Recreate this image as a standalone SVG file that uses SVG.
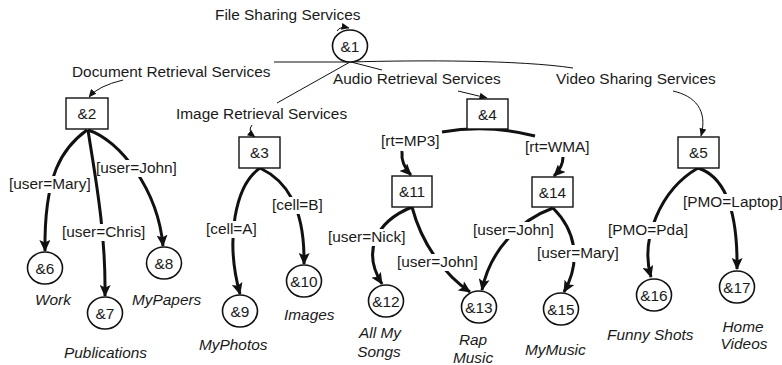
<svg xmlns="http://www.w3.org/2000/svg" width="782" height="365" viewBox="0 0 782 365">
<style>
text{font-family:"Liberation Sans",Arial,sans-serif;font-size:15.4px;fill:#1a1a1a}
.it{font-style:italic}
.c{text-anchor:middle}
.nb{fill:#fff;stroke:#111;stroke-width:1.4}
.nc{fill:#fff;stroke:#111;stroke-width:1.6}
.thick{fill:none;stroke:#111;stroke-width:3}
.thin{fill:none;stroke:#111;stroke-width:1}
.bg{fill:#fff}
</style>
<defs>
<marker id="ah" markerUnits="userSpaceOnUse" markerWidth="12" markerHeight="11" viewBox="0 0 12 11" refX="11" refY="5.5" orient="auto">
<path d="M0,0 L12,5.5 L0,11 L2.5,5.5 z" fill="#111"/>
</marker>
<marker id="as" markerUnits="userSpaceOnUse" markerWidth="8" markerHeight="7" viewBox="0 0 8 7" refX="7.5" refY="3.5" orient="auto">
<path d="M0,0 L8,3.5 L0,7 z" fill="#111"/>
</marker>
</defs>

<g id="connectors">
<path class="thin" d="M350,62 L274,62"/>
<path class="thin" d="M350,62 C420,60 520,60 573,68"/>
<path class="thin" d="M351,62 L382,70"/>
<path class="thin" d="M350,62 L277,103"/>
<path class="thin" d="M337,31 Q340,26 349,28" marker-end="url(#as)"/>
<path class="thin" d="M123,80 Q98,86 89,97" marker-end="url(#as)"/>
<path class="thin" d="M252,125 Q247,131 255,137" marker-end="url(#as)"/>
<path class="thin" d="M458,91 L487,98" marker-end="url(#as)"/>
<path class="thin" d="M673,91 C695,96 708,110 701,136" marker-end="url(#as)"/>

<path class="thick" d="M442,132 Q488,124 535,136"/>
<path class="thick" d="M87,130 C62,148 44,175 45,251" marker-end="url(#ah)"/>
<path class="thick" d="M88,130 C94,170 106,230 105,296" marker-end="url(#ah)"/>
<path class="thick" d="M88,130 C120,140 158,190 163,246" marker-end="url(#ah)"/>
<path class="thick" d="M260,168 C235,185 225,240 240,294" marker-end="url(#ah)"/>
<path class="thick" d="M260,168 C285,180 305,205 304,264" marker-end="url(#ah)"/>
<path class="thick" d="M402,151 C401,162 405,169 411,175" marker-end="url(#ah)"/>
<path class="thick" d="M563,157 C563,165 560,170 554,176" marker-end="url(#ah)"/>
<path class="thick" d="M412,207 C375,222 362,252 382,284" marker-end="url(#ah)"/>
<path class="thick" d="M412,207 C422,245 445,275 470,292" marker-end="url(#ah)"/>
<path class="thick" d="M553,208 C520,220 490,250 482,290" marker-end="url(#ah)"/>
<path class="thick" d="M553,208 C575,230 582,260 564,292" marker-end="url(#ah)"/>
<path class="thick" d="M698,168 C660,190 640,240 651,277" marker-end="url(#ah)"/>
<path class="thick" d="M698,168 C720,175 738,200 737,269" marker-end="url(#ah)"/>
</g>

<g id="service-labels">
<text x="215" y="20">File Sharing Services</text>
<text x="72" y="77">Document Retrieval Services</text>
<text x="333" y="84">Audio Retrieval Services</text>
<text x="556" y="84">Video Sharing Services</text>
<text x="176" y="119">Image Retrieval Services</text>
</g>

<g id="edge-labels">
<rect class="bg" x="8" y="176" width="84" height="17"/><text x="9" y="189">[user=Mary]</text>
<rect class="bg" x="100" y="160" width="77" height="17"/><text x="96" y="173">[user=John]</text>
<rect class="bg" x="61" y="224" width="86" height="17"/><text x="62" y="237">[user=Chris]</text>
<rect class="bg" x="205" y="221" width="54" height="17"/><text x="206" y="234">[cell=A]</text>
<rect class="bg" x="271" y="197" width="53" height="17"/><text x="272" y="210">[cell=B]</text>
<text x="381" y="146">[rt=MP3]</text>
<text x="525" y="152">[rt=WMA]</text>
<rect class="bg" x="327" y="229" width="80" height="17"/><text x="328" y="242">[user=Nick]</text>
<rect class="bg" x="396" y="254" width="83" height="17"/><text x="397" y="267">[user=John]</text>
<rect class="bg" x="472" y="222" width="82" height="17"/><text x="473" y="235">[user=John]</text>
<rect class="bg" x="536" y="245" width="84" height="17"/><text x="537" y="258">[user=Mary]</text>
<rect class="bg" x="607" y="222" width="82" height="17"/><text x="608" y="235">[PMO=Pda]</text>
<rect class="bg" x="682" y="194" width="100" height="17"/><text x="683" y="207">[PMO=Laptop]</text>
</g>

<g id="n1"><ellipse class="nc" cx="350" cy="46" rx="17.5" ry="16"/><text class="c" x="350" y="51.5">&amp;1</text></g>
<g id="n2"><rect class="nb" x="66" y="98" width="42" height="31"/><text class="c" x="87" y="119">&amp;2</text></g>
<g id="n3"><rect class="nb" x="239" y="137" width="41" height="31"/><text class="c" x="259.5" y="158">&amp;3</text></g>
<g id="n4"><rect class="nb" x="467" y="99" width="41" height="30"/><text class="c" x="487.5" y="119.5">&amp;4</text></g>
<g id="n5"><rect class="nb" x="678" y="137" width="41" height="31"/><text class="c" x="698.5" y="158">&amp;5</text></g>
<g id="n11"><rect class="nb" x="392" y="176" width="40" height="31"/><text class="c" x="412" y="197">&amp;11</text></g>
<g id="n14"><rect class="nb" x="532" y="177" width="41" height="30"/><text class="c" x="552.5" y="197.5">&amp;14</text></g>

<g id="n6"><ellipse class="nc" cx="45" cy="268" rx="17.5" ry="16"/><text class="c" x="45" y="273.5">&amp;6</text><text class="it" x="35" y="305">Work</text></g>
<g id="n7"><ellipse class="nc" cx="105" cy="313" rx="17.5" ry="16"/><text class="c" x="105" y="318.5">&amp;7</text><text class="it" x="64" y="358">Publications</text></g>
<g id="n8"><ellipse class="nc" cx="164" cy="263" rx="17.5" ry="16"/><text class="c" x="164" y="268.5">&amp;8</text><text class="it" x="132" y="305">MyPapers</text></g>
<g id="n9"><ellipse class="nc" cx="240" cy="311" rx="17.5" ry="16"/><text class="c" x="240" y="316.5">&amp;9</text><text class="it" x="199" y="350">MyPhotos</text></g>
<g id="n10"><ellipse class="nc" cx="304" cy="281" rx="17.5" ry="16"/><text class="c" x="304" y="286.5">&amp;10</text><text class="it" x="284" y="320">Images</text></g>
<g id="n12"><ellipse class="nc" cx="386" cy="301" rx="17.5" ry="16"/><text class="c" x="386" y="306.5">&amp;12</text><text class="it c" x="380" y="338">All My</text><text class="it c" x="379" y="357">Songs</text></g>
<g id="n13"><ellipse class="nc" cx="479" cy="307" rx="17.5" ry="16"/><text class="c" x="479" y="312.5">&amp;13</text><text class="it c" x="473" y="345">Rap</text><text class="it c" x="473" y="363">Music</text></g>
<g id="n15"><ellipse class="nc" cx="561" cy="309" rx="17.5" ry="16"/><text class="c" x="561" y="314.5">&amp;15</text><text class="it" x="525" y="355">MyMusic</text></g>
<g id="n16"><ellipse class="nc" cx="654" cy="295" rx="17.5" ry="16"/><text class="c" x="654" y="300.5">&amp;16</text><text class="it" x="607" y="340">Funny Shots</text></g>
<g id="n17"><ellipse class="nc" cx="737" cy="287" rx="17.5" ry="16"/><text class="c" x="737" y="292.5">&amp;17</text><text class="it c" x="743" y="332">Home</text><text class="it c" x="744" y="349">Videos</text></g>
</svg>
